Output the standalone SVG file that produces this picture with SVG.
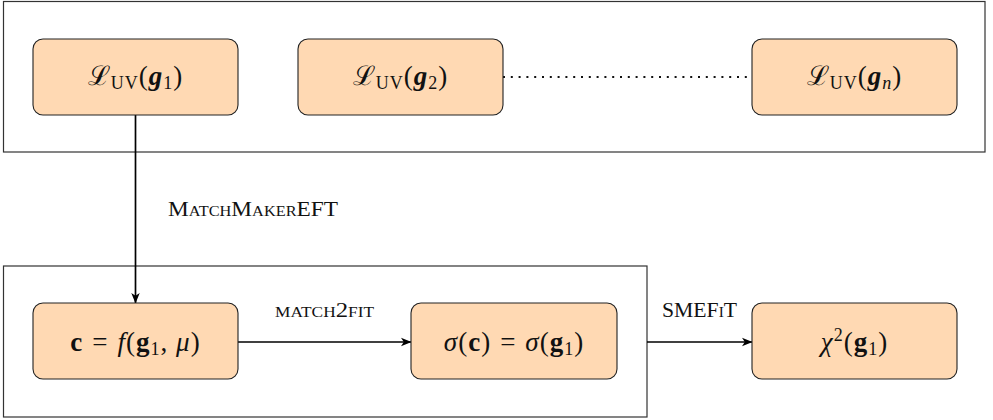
<svg xmlns="http://www.w3.org/2000/svg" width="993" height="420" viewBox="0 0 993 420">
  <style>
    .frame { fill: none; stroke: #333; stroke-width: 1.2; }
    .node rect { fill: #FFD9B3; stroke: #222; stroke-width: 1.1; }
    .math { font-family: "Liberation Serif", "DejaVu Serif", serif; font-size: 27px; fill: #111; letter-spacing: 1px; }
    .sub { font-size: 18px; }
    .bi { font-weight: bold; font-style: italic; }
    .b { font-weight: bold; }
    .i { font-style: italic; }
    .label { font-family: "Liberation Serif", "DejaVu Serif", serif; font-size: 20px; font-variant: small-caps; fill: #111; }
    .edge { fill: none; stroke: #000; stroke-width: 1.7; }
    .dotted { fill: none; stroke: #111; stroke-width: 2; stroke-dasharray: 2 5.8; }
  </style>
  <defs>
    <marker id="head" markerUnits="userSpaceOnUse" markerWidth="12" markerHeight="10" refX="10" refY="5" orient="auto">
      <path d="M0,0.8 L10.5,5 L0,9.2 L2.8,5 Z" fill="#000"/>
    </marker>
  </defs>

  <!-- Enclosing frames -->
  <rect class="frame" x="3.5" y="1.5" width="981.5" height="150.5"/>
  <rect class="frame" x="3.5" y="266" width="643.5" height="151"/>

  <!-- Connectors -->
  <g id="connectors">
    <line class="dotted" x1="503" y1="77" x2="752" y2="77"/>
    <line class="edge" x1="135.5" y1="115" x2="135.5" y2="303" marker-end="url(#head)"/>
    <line class="edge" x1="238" y1="342" x2="411" y2="342" marker-end="url(#head)"/>
    <line class="edge" x1="647" y1="342" x2="752" y2="342" marker-end="url(#head)"/>
    <text class="label" x="168" y="216" textLength="170" lengthAdjust="spacingAndGlyphs">MatchMakerEFT</text>
    <text class="label" x="275" y="317" textLength="99" lengthAdjust="spacingAndGlyphs">match2fit</text>
    <text class="label" x="662" y="317" textLength="75" lengthAdjust="spacingAndGlyphs">SMEFiT</text>
  </g>

  <!-- Top row: UV Lagrangians -->
  <g id="uv1" class="node">
    <rect x="33" y="39" width="205" height="76" rx="10"/>
    <text class="math" x="135.5" y="85" text-anchor="middle">ℒ<tspan class="sub" dy="4">UV</tspan><tspan dy="-4">(</tspan><tspan class="bi">g</tspan><tspan class="sub" dy="4">1</tspan><tspan dy="-4">)</tspan></text>
  </g>
  <g id="uv2" class="node">
    <rect x="298" y="39" width="205" height="76" rx="10"/>
    <text class="math" x="400.5" y="85" text-anchor="middle">ℒ<tspan class="sub" dy="4">UV</tspan><tspan dy="-4">(</tspan><tspan class="bi">g</tspan><tspan class="sub" dy="4">2</tspan><tspan dy="-4">)</tspan></text>
  </g>
  <g id="uvn" class="node">
    <rect x="752" y="39" width="205" height="76" rx="10"/>
    <text class="math" x="854.5" y="85" text-anchor="middle">ℒ<tspan class="sub" dy="4">UV</tspan><tspan dy="-4">(</tspan><tspan class="bi">g</tspan><tspan class="sub i" dy="4">n</tspan><tspan dy="-4">)</tspan></text>
  </g>

  <!-- Bottom row: matching, observables, fit -->
  <g id="coeffs" class="node">
    <rect x="33" y="303" width="205" height="76" rx="10"/>
    <text class="math" x="135.5" y="351" text-anchor="middle"><tspan class="b">c</tspan><tspan dx="9">=</tspan><tspan class="i" dx="9">f</tspan>(<tspan class="b">g</tspan><tspan class="sub" dy="4">1</tspan><tspan dy="-4">, </tspan><tspan class="i">μ</tspan>)</text>
  </g>
  <g id="xsec" class="node">
    <rect x="411" y="303" width="206" height="76" rx="10"/>
    <text class="math" x="514" y="351" text-anchor="middle"><tspan class="i">σ</tspan>(<tspan class="b">c</tspan>)<tspan dx="9">=</tspan><tspan class="i" dx="9">σ</tspan>(<tspan class="b">g</tspan><tspan class="sub" dy="4">1</tspan><tspan dy="-4">)</tspan></text>
  </g>
  <g id="chi2" class="node">
    <rect x="752" y="303" width="205" height="76" rx="10"/>
    <text class="math" x="854.5" y="351" text-anchor="middle"><tspan class="i">χ</tspan><tspan class="sub" dy="-10">2</tspan><tspan dy="10">(</tspan><tspan class="b">g</tspan><tspan class="sub" dy="4">1</tspan><tspan dy="-4">)</tspan></text>
  </g>
</svg>
